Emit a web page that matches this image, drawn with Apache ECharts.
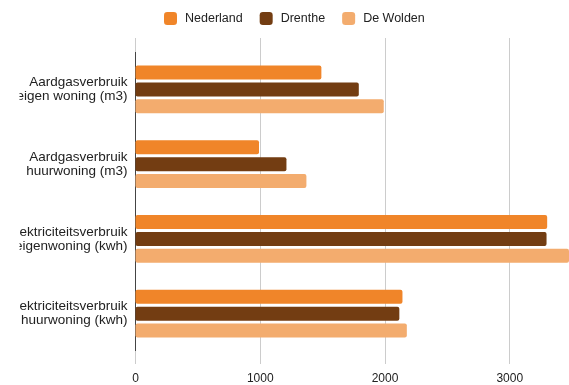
<!DOCTYPE html>
<html lang="nl">
  <head>
    <meta charset="UTF-8" />
    <title>Energieverbruik</title>
    <script src="https://cdn.jsdelivr.net/npm/echarts@6/dist/echarts.min.js"></script>
    <style>
      body { margin: 0; background: #fff; }
    </style>
  </head>
  <body>
    <div id="main" style="width: 569px; height: 385px"></div>
    <script type="text/javascript">
      let categories = [
        "Aardgasverbruik\neigen woning (m3)",
        "Aardgasverbruik\nhuurwoning (m3)",
        "Elektriciteitsverbruik\neigenwoning (kwh)",
        "Elektriciteitsverbruik\nhuurwoning (kwh)",
      ];
      let nederland = [1490, 990, 3300, 2140];
      let drenthe = [1790, 1210, 3295, 2115];
      let deWolden = [1990, 1370, 3600, 2175];
      let xTicks = [0, 1000, 2000, 3000];

      let colors = ["#F08529", "#733D12", "#F3AC6E"];
      let xMax = 3475;

      let myChart = echarts.init(document.getElementById("main"));

      function bar(name, data, color) {
        return {
          name: name,
          type: "bar",
          data: data,
          barWidth: 14,
          barGap: "21%",
          itemStyle: { color: color, borderRadius: 2 },
        };
      }

      let options = {
        animation: false,
        textStyle: { fontFamily: "Liberation Sans, Arial, sans-serif" },
        legend: {
          left: 164,
          top: 12,
          padding: 0,
          itemWidth: 13,
          itemHeight: 13,
          itemGap: 17,
          icon: "roundRect",
          textStyle: { fontSize: 12.5, color: "#222", padding: [0, 0, 0, 3] },
        },
        grid: { left: 135.5, right: 0, top: 52, bottom: 32 },
        xAxis: [
          {
            type: "value",
            min: 0,
            max: xMax,
            interval: 1000,
            axisLine: { show: false },
            axisTick: {
              show: true,
              length: 13,
              customValues: xTicks,
              lineStyle: { color: "#ccc" },
            },
            axisLabel: {
              margin: 22,
              fontSize: 12,
              color: "#222",
              customValues: xTicks,
              formatter: (v) => String(v),
            },
            splitLine: { lineStyle: { color: "#ccc" } },
          },
          {
            type: "value",
            position: "top",
            min: 0,
            max: xMax,
            interval: 1000,
            axisLine: { show: false },
            axisTick: {
              show: true,
              length: 14,
              customValues: xTicks,
              lineStyle: { color: "#ccc" },
            },
            axisLabel: { show: false },
            splitLine: { show: false },
          },
        ],
        yAxis: {
          type: "category",
          inverse: true,
          data: categories,
          axisTick: { show: false },
          axisLine: { lineStyle: { color: "#444" } },
          axisLabel: { margin: 8, fontSize: 13.5, lineHeight: 14, color: "#222" },
        },
        // the label area of the original is cut off on the left
        graphic: [
          {
            type: "rect",
            left: 0,
            top: 45,
            z: 100,
            shape: { width: 19.5, height: 300 },
            style: { fill: "#fff" },
          },
        ],
        series: [
          bar("Nederland", nederland, colors[0]),
          bar("Drenthe", drenthe, colors[1]),
          bar("De Wolden", deWolden, colors[2]),
        ],
      };
      myChart.setOption(options);
    </script>
  </body>
</html>
